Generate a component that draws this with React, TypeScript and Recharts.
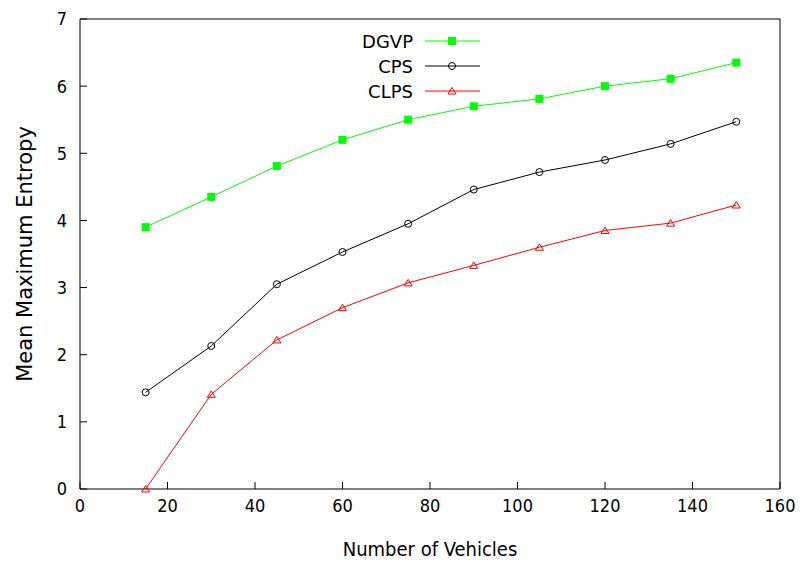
import React from "react";
import {
  LineChart,
  Line,
  XAxis,
  YAxis,
} from "recharts";

const vehicles = [15, 30, 45, 60, 75, 90, 105, 120, 135, 150];
const dgvp = [3.9, 4.35, 4.81, 5.2, 5.5, 5.7, 5.81, 6.0, 6.11, 6.35];
const cps = [1.44, 2.13, 3.05, 3.53, 3.95, 4.46, 4.72, 4.9, 5.14, 5.47];
const clps = [0.0, 1.41, 2.22, 2.7, 3.07, 3.33, 3.6, 3.85, 3.96, 4.23];
const xTicks = [0, 20, 40, 60, 80, 100, 120, 140, 160];
const yTicks = [0, 1, 2, 3, 4, 5, 6, 7];

const GREEN = "#00ff00";
const RED = "#ff0000";
const BLACK = "#000000";

const data = vehicles.map((v, i) => ({
  vehicles: v,
  dgvp: dgvp[i],
  cps: cps[i],
  clps: clps[i],
}));

const series = [
  { key: "dgvp", name: "DGVP", color: GREEN, marker: "square" },
  { key: "cps", name: "CPS", color: BLACK, marker: "circle" },
  { key: "clps", name: "CLPS", color: RED, marker: "triangle" },
];

function Marker({ cx, cy, kind, color }: any) {
  if (cx == null || cy == null) return null;
  if (kind === "square") {
    return <rect x={cx - 4} y={cy - 4} width={8} height={8} fill={color} />;
  }
  if (kind === "circle") {
    return <circle cx={cx} cy={cy} r={3.5} fill="none" stroke={color} strokeWidth={1} />;
  }
  return (
    <polygon
      points={`${cx},${cy - 3.5} ${cx - 4},${cy + 3} ${cx + 4},${cy + 3}`}
      fill="none"
      stroke={color}
      strokeWidth={1}
    />
  );
}

// gnuplot-style key: label right-aligned, then sample line with marker
function GnuLegend() {
  return (
    <div
      style={{
        position: "absolute",
        left: 340,
        top: 28.5,
        fontFamily: "DejaVu Sans",
        fontSize: 18,
        color: "#000",
      }}
    >
      {series.map((s) => (
        <div key={s.key} style={{ display: "flex", alignItems: "center", height: 25 }}>
          <span style={{ width: 73, textAlign: "right", lineHeight: "25px" }}>{s.name}</span>
          <svg width={56} height={12} style={{ marginLeft: 12 }}>
            <line x1={0} y1={6} x2={55} y2={6} stroke={s.color} strokeWidth={1} />
            <Marker cx={27} cy={6} kind={s.marker} color={s.color} />
          </svg>
        </div>
      ))}
    </div>
  );
}

const tickFont = { fontFamily: "DejaVu Sans Condensed", fontSize: 18, fill: "#000" };

export default function App() {
  return (
    <div style={{ position: "absolute", left: 0, top: 0, width: 802, height: 563, background: "#fff" }}>
      <LineChart
        width={802}
        height={563}
        data={data}
        margin={{ top: 18, right: 21, bottom: 14, left: 20 }}
      >
        <XAxis
          xAxisId="b"
          dataKey="vehicles"
          type="number"
          domain={[0, 160]}
          ticks={xTicks}
          interval={0}
          height={60}
          tickSize={-7}
          tickMargin={17}
          tickLine={{ stroke: BLACK }}
          axisLine={{ stroke: BLACK }}
          tick={tickFont}
          label={{
            value: "Number of Vehicles",
            position: "bottom",
            offset: -7,
            style: { fontFamily: "DejaVu Sans Condensed", fontSize: 20, fill: "#000" },
          }}
        />
        <XAxis
          xAxisId="t"
          orientation="top"
          type="number"
          domain={[0, 160]}
          ticks={xTicks}
          interval={0}
          height={1}
          tickSize={-7}
          tick={false}
          tickLine={{ stroke: BLACK }}
          axisLine={{ stroke: BLACK }}
        />
        <YAxis
          yAxisId="l"
          type="number"
          domain={[0, 7]}
          ticks={yTicks}
          interval={0}
          width={60}
          tickSize={-7}
          tickMargin={20}
          tickLine={{ stroke: BLACK }}
          axisLine={{ stroke: BLACK }}
          tick={tickFont}
          label={{
            value: "Mean Maximum Entropy",
            angle: -90,
            position: "center",
            dx: -25,
            style: { fontFamily: "DejaVu Sans", fontSize: 21, fill: "#000" },
          }}
        />
        <YAxis
          yAxisId="r"
          orientation="right"
          type="number"
          domain={[0, 7]}
          ticks={yTicks}
          interval={0}
          width={1}
          tickSize={-7}
          tick={false}
          tickLine={{ stroke: BLACK }}
          axisLine={{ stroke: BLACK }}
        />
        {series.map((s) => (
          <Line
            key={s.key}
            xAxisId="b"
            yAxisId="l"
            type="linear"
            dataKey={s.key}
            name={s.name}
            stroke={s.color}
            strokeWidth={1}
            isAnimationActive={false}
            dot={(p: any) => (
              <Marker key={`${s.key}-${p.index}`} cx={p.cx} cy={p.cy} kind={s.marker} color={s.color} />
            )}
            activeDot={false}
          />
        ))}
      </LineChart>
      <GnuLegend />
    </div>
  );
}
